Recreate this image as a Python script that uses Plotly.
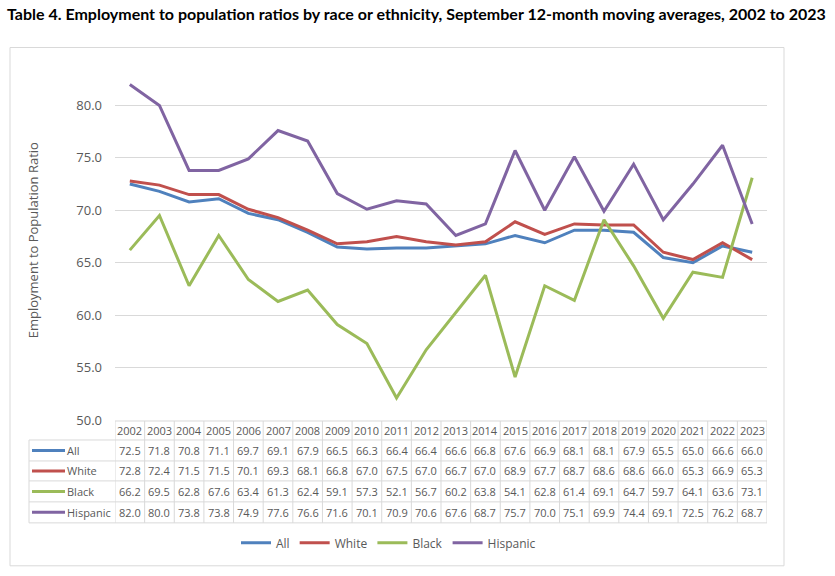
import plotly.graph_objects as go

years = [str(y) for y in range(2002, 2024)]
series_names = ["All", "White", "Black", "Hispanic"]
all_vals = [72.5, 71.8, 70.8, 71.1, 69.7, 69.1, 67.9, 66.5, 66.3, 66.4, 66.4,
            66.6, 66.8, 67.6, 66.9, 68.1, 68.1, 67.9, 65.5, 65.0, 66.6, 66.0]
white_vals = [72.8, 72.4, 71.5, 71.5, 70.1, 69.3, 68.1, 66.8, 67.0, 67.5, 67.0,
              66.7, 67.0, 68.9, 67.7, 68.7, 68.6, 68.6, 66.0, 65.3, 66.9, 65.3]
black_vals = [66.2, 69.5, 62.8, 67.6, 63.4, 61.3, 62.4, 59.1, 57.3, 52.1, 56.7,
              60.2, 63.8, 54.1, 62.8, 61.4, 69.1, 64.7, 59.7, 64.1, 63.6, 73.1]
hispanic_vals = [82.0, 80.0, 73.8, 73.8, 74.9, 77.6, 76.6, 71.6, 70.1, 70.9, 70.6,
                 67.6, 68.7, 75.7, 70.0, 75.1, 69.9, 74.4, 69.1, 72.5, 76.2, 68.7]
colors = ["#4F81BD", "#C0504D", "#9BBB59", "#8064A2"]
y_ticks = [50, 55, 60, 65, 70, 75, 80]

values = [all_vals, white_vals, black_vals, hispanic_vals]

W, H = 835, 576
L, R, T, B = 115, 767, 52.5, 420
FONT = "Open Sans"
GRAY = "#595959"
LINE = "#D9D9D9"


def px(x):
    return (x - L) / (R - L)


def py(y):
    return (B - y) / (B - T)


fig = go.Figure()
for name, vals, c in zip(series_names, values, colors):
    fig.add_trace(go.Scatter(x=years, y=vals, name=name, mode="lines",
                             line=dict(color=c, width=3)))

shapes = []
annotations = []

# outer frame
shapes.append(dict(type="rect", xref="paper", yref="paper",
                   x0=px(10), x1=px(784), y0=py(566), y1=py(47),
                   line=dict(color=LINE, width=1), layer="below"))

# table geometry
row_lines = [421, 440, 461, 481, 502, 523]
left_edge = 29
shapes.append(dict(type="line", xref="x", yref="paper", x0=-0.5, x1=len(years) - 0.5,
                   y0=py(row_lines[0]), y1=py(row_lines[0]), line=dict(color=LINE, width=1)))
for yl in row_lines[1:]:
    shapes.append(dict(type="line", xref="paper", yref="paper", x0=px(left_edge), x1=1,
                       y0=py(yl), y1=py(yl), line=dict(color=LINE, width=1)))
shapes.append(dict(type="line", xref="paper", yref="paper", x0=px(left_edge), x1=px(left_edge),
                   y0=py(row_lines[1]), y1=py(row_lines[-1]), line=dict(color=LINE, width=1)))
for i in range(len(years) + 1):
    shapes.append(dict(type="line", xref="x", yref="paper", x0=i - 0.5, x1=i - 0.5,
                       y0=py(row_lines[0]), y1=py(row_lines[-1]), line=dict(color=LINE, width=1)))

cell_font = dict(family=FONT, size=11, color=GRAY)

# header years
hy = (row_lines[0] + row_lines[1]) / 2
for i, yr in enumerate(years):
    annotations.append(dict(x=i, y=py(hy), xref="x", yref="paper", text=yr,
                            xanchor="center", yanchor="middle",
                            showarrow=False, font=cell_font))

# data rows
for r, (name, vals, c) in enumerate(zip(series_names, values, colors)):
    yc = (row_lines[r + 1] + row_lines[r + 2]) / 2
    shapes.append(dict(type="line", xref="paper", yref="paper", x0=px(32), x1=px(65),
                       y0=py(yc), y1=py(yc), line=dict(color=c, width=3)))
    annotations.append(dict(x=px(65), y=py(yc), xref="paper", yref="paper", text=name,
                            xanchor="left", yanchor="middle", showarrow=False, font=cell_font))
    for i, v in enumerate(vals):
        annotations.append(dict(x=i, y=py(yc), xref="x", yref="paper", text=f"{v:.1f}",
                                xanchor="center", yanchor="middle",
                                showarrow=False, font=cell_font))

# title
annotations.append(dict(x=px(5), y=py(13), xref="paper", yref="paper",
                        text="<b>Table 4. Employment to population ratios by race or ethnicity, September 12-month moving averages, 2002 to 2023</b>",
                        xanchor="left", yanchor="middle", showarrow=False,
                        font=dict(family="Lato", size=16, color="#000000")))
# y axis title
annotations.append(dict(x=px(33), y=py(240), xref="paper", yref="paper",
                        text="Employment to Population Ratio", textangle=-90,
                        xanchor="center", yanchor="middle",
                        showarrow=False, font=dict(family=FONT, size=13, color=GRAY)))

fig.update_layout(
    width=W, height=H,
    margin=dict(l=L, r=W - R, t=T, b=H - B),
    paper_bgcolor="white", plot_bgcolor="white",
    shapes=shapes, annotations=annotations,
    showlegend=True,
    legend=dict(orientation="h", x=px(236), xanchor="left", y=py(543), yanchor="middle",
                font=dict(family=FONT, size=12, color=GRAY), itemwidth=30,
                bgcolor="rgba(0,0,0,0)"),
    xaxis=dict(type="category", range=[-0.5, len(years) - 0.5], showticklabels=False,
               showgrid=False, zeroline=False, showline=False, ticks=""),
    yaxis=dict(range=[50, 85], tickvals=y_ticks, ticktext=[f"{t:.1f}" for t in y_ticks],
               showgrid=True, gridcolor=LINE, gridwidth=1, zeroline=False, showline=False,
               ticks="", ticklabelstandoff=12,
               tickfont=dict(family=FONT, size=13, color=GRAY)),
)

fig.write_html("out.html")
